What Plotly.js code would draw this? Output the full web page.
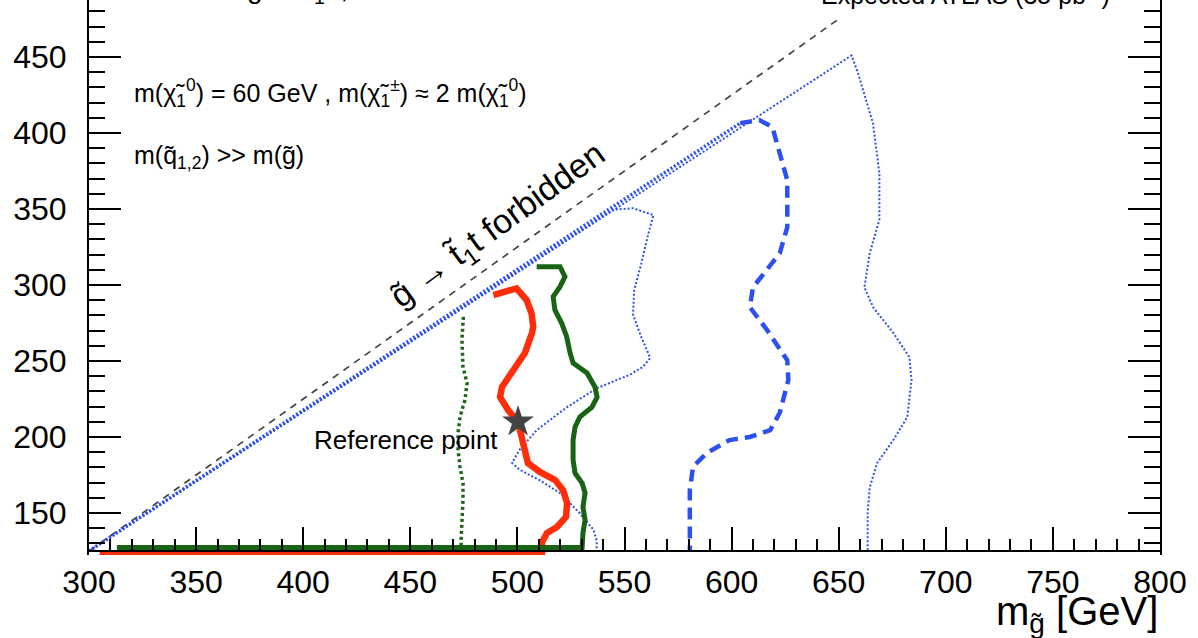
<!DOCTYPE html>
<html>
<head>
<meta charset="utf-8">
<script src="https://cdn.plot.ly/plotly-3.0.1.min.js"></script>
<style>html,body{margin:0;padding:0;background:#fff;}#chart{width:1198px;height:638px;}</style>
</head>
<body>
<div id="chart"></div>
<script>
// ---- data (x = gluino mass [GeV], y = stop mass [GeV]) ----
const kinLimitX = [300, 650];
const kinLimitY = [125, 475];

const expMinusX = [300, 656, 659, 666, 669, 669, 664.5, 662, 666, 675.5, 683, 684, 682, 675.5, 668, 664.5, 663.5, 663.5];
const expMinusY = [125, 451, 439.5, 406.5, 373.5, 343, 321, 298.5, 285.5, 268.5, 252.5, 237.5, 213, 198, 183, 167, 150, 125];

// expected contour: edge part along the kinematic boundary, then the free part
const expectedEdgeX = [300, 604];
const expectedEdgeY = [125, 406.5];
const expectedX = [604, 613, 619, 626, 626, 622.5, 610, 608.5, 616.5, 626, 626.5, 622.5, 618, 608.5, 599, 588.5, 582, 580.5, 580.5, 580.5];
const expectedY = [406.5, 408.5, 404, 369, 338, 321, 298.5, 285.5, 270.5, 250.5, 237.5, 216, 204.5, 200, 198, 189.5, 180.5, 165, 143.5, 125];

const expPlusX = [300, 544.5, 554, 563.5, 561, 558, 554.5, 554, 557.5, 562, 558.5, 552.5, 537, 523, 509, 501, 497.5, 501, 510.5, 520, 529, 535.5, 537, 537];
const expPlusY = [125, 349.5, 350.5, 346, 333, 315, 296.5, 280.5, 267, 252, 246, 241, 232, 219.5, 204.5, 191.5, 183, 178.5, 171.5, 163, 150, 139, 132, 125];

const redX = [305, 511.5, 511.5, 513.8, 518.5, 522.7, 523.2, 521.3, 517.6, 510.5, 504.9, 503.5, 502.1, 500.3, 495.6, 491.9, 492.8, 497.9, 503.5, 506.8, 507.4, 506.6, 504.3, 499.6, 488.8];
const redY = [123.4, 123.4, 130.9, 136.8, 140.8, 147.4, 156.6, 165.1, 171.7, 177.0, 182.9, 191.4, 202.6, 209.9, 217.8, 226.3, 232.9, 244.1, 255.3, 268.4, 272.6, 281.4, 290.1, 297.8, 293.4];

const greenX = [313, 530.2, 530.6, 531.6, 530.6, 531.6, 530.2, 526.9, 526.0, 526.0, 526.9, 529.2, 534.8, 537.2, 536.2, 532.5, 526.0, 524.6, 523.0, 520.7, 517.5, 516.7, 519.9, 522.2, 519.9, 509.0];
const greenY = [127.3, 127.3, 136.8, 145.4, 153.9, 163.2, 169.7, 176.3, 184.9, 198.0, 206.6, 213.2, 219.7, 226.3, 232.9, 242.1, 248.7, 255.3, 266.0, 274.8, 283.6, 292.3, 298.9, 305.5, 312.0, 312.0];

const greenDotX = [474.8, 474.1, 474.6, 476.5, 475.5, 473.2, 472.3, 472.3, 473.2, 474.6, 474.6, 474.1, 473.7, 473.7];
const greenDotY = [279.1, 263.8, 246.1, 235.5, 224.3, 213.2, 202.6, 191.4, 180.3, 169.7, 158.6, 147.4, 132.2, 127.3];

const refPointX = [500.3];
const refPointY = [210];

const xTickVals = [300, 350, 400, 450, 500, 550, 600, 650, 700, 750, 800];
const yTickVals = [150, 200, 250, 300, 350, 400, 450];

// ---- styling ----
const FONT = 'Liberation Sans, Arial, Helvetica, sans-serif';
const BLUE = 'rgb(45,80,240)';
const traces = [
  {x: kinLimitX, y: kinLimitY, mode: 'lines', line: {color: '#444', width: 1.7, dash: '7px,6px'}},
  {x: expectedEdgeX, y: expectedEdgeY, mode: 'lines', line: {color: BLUE, width: 3.5, dash: '2px,2px'}},
  {x: expMinusX, y: expMinusY, mode: 'lines', line: {color: BLUE, width: 2, dash: '2px,2px'}},
  {x: expPlusX, y: expPlusY, mode: 'lines', line: {color: BLUE, width: 2, dash: '2px,2px'}},
  {x: expectedX, y: expectedY, mode: 'lines', line: {color: BLUE, width: 4.5, dash: '12px,7px'}},
  {x: greenDotX, y: greenDotY, mode: 'lines', line: {color: 'rgb(25,105,20)', width: 3.5, dash: '3px,3px'}},
  {x: redX, y: redY, mode: 'lines', line: {color: 'rgb(255,45,10)', width: 6.5}},
  {x: greenX, y: greenY, mode: 'lines', line: {color: 'rgb(25,100,20)', width: 5}},
  {x: refPointX, y: refPointY, mode: 'markers', marker: {symbol: 'star', size: 24, color: '#444'}}
];

const layout = {
  width: 1198, height: 638,
  margin: {l: 89, r: 38, t: 0, b: 83},
  paper_bgcolor: '#fff', plot_bgcolor: '#fff',
  showlegend: false,
  font: {family: FONT, color: '#000'},
  xaxis: {
    range: [300, 800], tickvals: xTickVals, ticktext: xTickVals.map(String),
    anchor: 'free', position: 4 / 555,
    showline: true, linecolor: '#000', linewidth: 2,
    ticks: 'inside', ticklen: 23, tickwidth: 2, tickcolor: '#000',
    minor: {dtick: 10, tick0: 300, ticks: 'inside', ticklen: 11, tickwidth: 2, tickcolor: '#000', showgrid: false},
    showgrid: false, zeroline: false, mirror: false,
    tickfont: {size: 32, family: FONT, color: '#000'}, ticklabelstandoff: 3
  },
  yaxis: {
    range: [122.37, 487.5], tickvals: yTickVals, ticktext: yTickVals.map(String),
    showline: true, linecolor: '#000', linewidth: 2, mirror: 'ticks',
    ticks: 'inside', ticklen: 32, tickwidth: 2, tickcolor: '#000',
    minor: {dtick: 10, tick0: 0, ticks: 'inside', ticklen: 16, tickwidth: 2, tickcolor: '#000', showgrid: false},
    showgrid: false, zeroline: false,
    tickfont: {size: 32, family: FONT, color: '#000'}, ticklabelstandoff: 14
  },
  annotations: [
    {xref: 'x', yref: 'y', x: 320, y: 426.3, xanchor: 'left', yanchor: 'middle', showarrow: false,
     text: 'm(χ̃<sub>1</sub><sup>0</sup>) = 60 GeV , m(χ̃<sub>1</sub><sup>±</sup>) ≈ 2 m(χ̃<sub>1</sub><sup>0</sup>)',
     font: {size: 25, family: FONT, color: '#000'}},
    {xref: 'x', yref: 'y', x: 320, y: 384.2, xanchor: 'left', yanchor: 'middle', showarrow: false,
     text: 'm(q̃<sub>1,2</sub>) >> m(g̃)', font: {size: 25, family: FONT, color: '#000'}},
    {xref: 'x', yref: 'y', x: 491, y: 338.5, xanchor: 'center', yanchor: 'middle', showarrow: false, textangle: -36,
     text: 'g̃ → t̃<sub>1</sub>t forbidden', font: {size: 34, family: FONT, color: '#000'}},
    {xref: 'x', yref: 'y', x: 492, y: 198, xanchor: 'right', yanchor: 'middle', showarrow: false,
     text: 'Reference point', font: {size: 26, family: FONT, color: '#000'}},
    {xref: 'paper', yref: 'paper', x: 1, y: -0.106, xanchor: 'right', yanchor: 'middle', showarrow: false,
     text: 'm<sub>g̃</sub> [GeV]', font: {size: 40, family: FONT, color: '#000'}},
    {xref: 'paper', yref: 'paper', x: 0.955, y: 0.98, xanchor: 'right', yanchor: 'bottom', showarrow: false,
     text: 'Expected ATLAS (35 pb<sup>-1</sup>)', font: {size: 25, family: FONT, color: '#000'}},
    {xref: 'paper', yref: 'paper', x: 0.146, y: 0.982, xanchor: 'left', yanchor: 'bottom', showarrow: false,
     text: 'g̃ → t̃<sub>1</sub>t , √s = 7 TeV', font: {size: 28, family: FONT, color: '#000'}}
  ]
};

Plotly.newPlot('chart', traces, layout, {staticPlot: true, displayModeBar: false});
</script>
</body>
</html>
